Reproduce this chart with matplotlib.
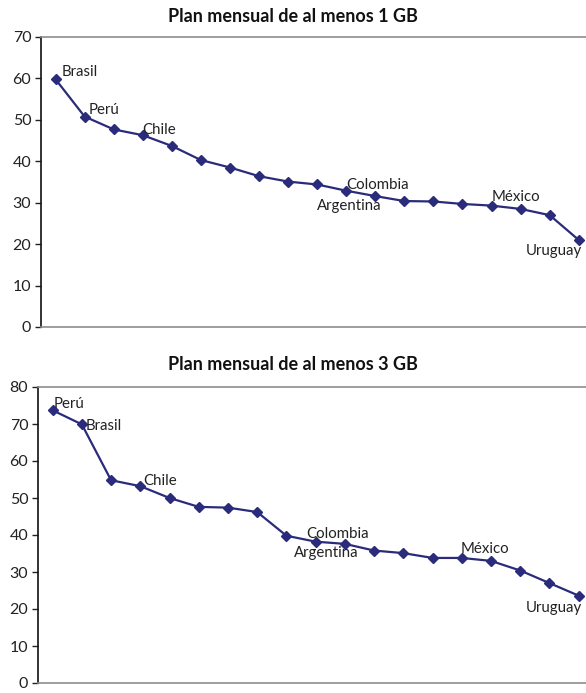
import matplotlib.pyplot as plt

plt.rcParams['font.family'] = ['Lato', 'DejaVu Sans']

# datos: 19 paises ordenados de mayor a menor
gb1_vals = [59.8, 50.8, 47.7, 46.3, 43.7, 40.3, 38.5, 36.4, 35.1, 34.4,
            32.9, 31.6, 30.4, 30.3, 29.7, 29.3, 28.5, 27.0, 21.0]
gb3_vals = [73.7, 69.9, 54.8, 53.2, 50.0, 47.6, 47.4, 46.2, 39.8, 38.2,
            37.6, 35.8, 35.1, 33.8, 33.8, 33.0, 30.4, 27.0, 23.6]

# etiquetas: (indice, texto)
gb1_labels = [(0, 'Brasil'), (1, 'Perú'), (3, 'Chile'), (10, 'Colombia'),
              (11, 'Argentina'), (15, 'México'), (18, 'Uruguay')]
gb3_labels = [(0, 'Perú'), (1, 'Brasil'), (3, 'Chile'), (9, 'Colombia'),
              (10, 'Argentina'), (14, 'México'), (18, 'Uruguay')]

# desplazamientos en pixeles (dx, dy, ha)
gb1_offs = {'Brasil': (6, 7, 'left'), 'Perú': (4, 7, 'left'), 'Chile': (0, 5, 'left'),
            'Colombia': (0, 6, 'left'), 'Argentina': (6, -10, 'right'),
            'México': (0, 9, 'left'), 'Uruguay': (3, -11, 'right')}
gb3_offs = {'Perú': (1, 6, 'left'), 'Brasil': (4, -2, 'left'), 'Chile': (3, 5, 'left'),
            'Colombia': (-9, 8, 'left'), 'Argentina': (14, -9, 'right'),
            'México': (-1, 9, 'left'), 'Uruguay': (3, -12, 'right')}

color = '#2b2b7c'
W, H = 586, 693
fig = plt.figure(figsize=(W / 100, H / 100), dpi=100)


def panel(rect, vals, labels, offs, ymax, title, title_y):
    ax = fig.add_axes(rect)
    x = list(range(len(vals)))
    ax.plot(x, vals, color=color, lw=1.6, marker='D', ms=5.5,
            mec=color, mfc=color)
    ax.set_xlim(-0.5, len(vals) - 0.75)
    ax.set_ylim(0, ymax)
    ax.set_yticks(range(0, ymax + 1, 10))
    ax.set_xticks([])
    ax.tick_params(axis='y', length=4, width=1, direction='out',
                   labelsize=11.5, pad=3, colors='#222222')
    ax.spines['right'].set_visible(False)
    ax.spines['top'].set_color('#8c8c8c')
    ax.spines['bottom'].set_color('#8c8c8c')
    ax.spines['top'].set_linewidth(1.2)
    ax.spines['bottom'].set_linewidth(1.2)
    ax.spines['left'].set_color('#111111')
    ax.spines['left'].set_linewidth(1.2)
    for i, txt in labels:
        dx, dy, ha = offs[txt]
        ax.annotate(txt, (x[i], vals[i]), xytext=(dx, dy),
                    textcoords='offset pixels', ha=ha, va='center',
                    fontsize=10.8, color='#222222', annotation_clip=False)
    fig.text(0.5, title_y, title, ha='center', va='center',
             fontsize=13, fontweight='bold', color='#111111')
    return ax


panel([41 / W, 1 - 327 / H, (W - 41) / W, 290 / H], gb1_vals, gb1_labels,
      gb1_offs, 70, 'Plan mensual de al menos 1 GB', 1 - 17 / H)
panel([38 / W, 1 - 683 / H, (W - 38) / W, 296 / H], gb3_vals, gb3_labels,
      gb3_offs, 80, 'Plan mensual de al menos 3 GB', 1 - 365 / H)

fig.savefig('out.png', dpi=100)
